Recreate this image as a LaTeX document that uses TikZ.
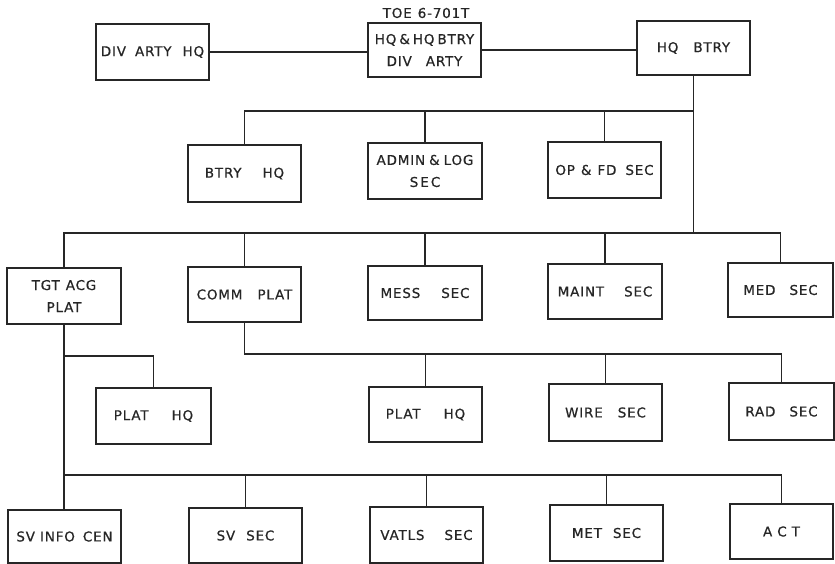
\documentclass[tikz,border=0pt]{standalone}
\usepackage{fontspec}
\newfontfamily\lettering{DejaVu Sans}[LetterSpace=6,FakeBold=0.6]
\newcommand\gp[1]{\hspace{#1pt}}
\begin{document}
\begin{tikzpicture}[x=1pt,y=-1pt,
  ln/.style={line width=1.3pt, draw=black!85},
  box/.style={ln, rectangle, align=center, inner sep=0pt,
    minimum width=113pt, minimum height=56pt,
    font=\lettering\fontsize{13.5}{22}\selectfont, text=black!85},
  lbl/.style={inner sep=0pt, font=\lettering\fontsize{13.5}{15}\selectfont, text=black!85}]
\useasboundingbox (0,0) rectangle (835,564);
\fill[white] (0,0) rectangle (835,564);
% row 1
\node[box, minimum height=56pt] (divhq) at (152.5,52) {DIV\gp{9}ARTY\gp{11}HQ};
\node[box, minimum height=54pt] (hqhq) at (424.5,50) {HQ\gp{3}\&\gp{3}HQ\gp{3}BTRY\\DIV\gp{14}ARTY};
\node[lbl] (toe) at (426,13) {TOE\gp{6}6-701T};
\node[box, minimum height=54pt] (hqbtry) at (693.5,48) {HQ\gp{15}BTRY};
% row 2
\node[box, minimum height=57pt] (btryhq) at (244.5,173.5) {BTRY\gp{21}HQ};
\node[box, minimum width=114pt] (admin) at (425,171) {ADMIN\gp{4}\&\gp{4}LOG\\S\gp{2}E\gp{2}C};
\node[box] (opfd) at (604.5,170) {OP\gp{6}\&\gp{6}FD\gp{9}SEC};
% row 3
\node[box, minimum width=114pt] (tgt) at (64,296) {TGT\gp{6}ACG\\PLAT};
\node[box, minimum height=55pt] (comm) at (244.5,294.5) {COMM\gp{15}PLAT};
\node[box, minimum width=114pt, minimum height=54pt] (mess) at (425,293) {MESS\gp{21}SEC};
\node[box, minimum width=114pt, minimum height=55pt] (maint) at (605,291.5) {MAINT\gp{20}SEC};
\node[box, minimum width=105pt, minimum height=54pt] (med) at (780.5,290) {MED\gp{14}SEC};
% row 4
\node[box, minimum width=115pt] (platl) at (153.5,416) {PLAT\gp{23}HQ};
\node[box, minimum height=55pt] (platm) at (425.5,414.5) {PLAT\gp{23}HQ};
\node[box, minimum height=57pt] (wire) at (605.5,412.5) {WIRE\gp{15}SEC};
\node[box, minimum width=105pt, minimum height=57pt] (rad) at (781.5,411.5) {RAD\gp{14}SEC};
% row 5
\node[box, minimum height=53pt] (svinfo) at (64.5,536.5) {SV\gp{5}INFO\gp{8}CEN};
\node[box, minimum height=55pt] (svsec) at (245.5,535.5) {SV\gp{11}SEC};
\node[box, minimum height=56pt] (vatls) at (426.5,535) {VATLS\gp{20}SEC};
\node[box, minimum height=56pt] (met) at (606.5,533) {MET\gp{11}SEC};
\node[box, minimum width=103pt, minimum height=55pt] (act) at (781.5,531.5) {A\gp{5}C\gp{5}T};
% bus levels
\coordinate (b1) at (0,111);
\coordinate (b2) at (0,233);
\coordinate (b3) at (0,354);
\coordinate (b4) at (0,356);
\coordinate (b5) at (0,475);
% connectors
\draw[ln] (divhq.east) -- (divhq.east -| hqhq.west);
\draw[ln] (hqhq.east) -- (hqhq.east -| hqbtry.west);
\draw[ln] (hqbtry.south) -- (hqbtry.south |- b2);
\draw[ln] (btryhq.north) |- (hqbtry.south |- b1);
\draw[ln] (admin.north) -- (admin.north |- b1);
\draw[ln] (opfd.north) -- (opfd.north |- b1);
\draw[ln] (tgt.north) |- (med.north |- b2) -- (med.north);
\draw[ln] (comm.north) -- (comm.north |- b2);
\draw[ln] (mess.north) -- (mess.north |- b2);
\draw[ln] (maint.north) -- (maint.north |- b2);
\draw[ln] (comm.south) |- (rad.north |- b3) -- (rad.north);
\draw[ln] (platm.north) -- (platm.north |- b3);
\draw[ln] (wire.north) -- (wire.north |- b3);
\draw[ln] (tgt.south) -- (tgt.south |- svinfo.north);
\draw[ln] (tgt.south |- b4) -| (platl.north);
\draw[ln] (svinfo.north |- b5) -| (act.north);
\draw[ln] (svsec.north) -- (svsec.north |- b5);
\draw[ln] (vatls.north) -- (vatls.north |- b5);
\draw[ln] (met.north) -- (met.north |- b5);
\end{tikzpicture}
\end{document}
